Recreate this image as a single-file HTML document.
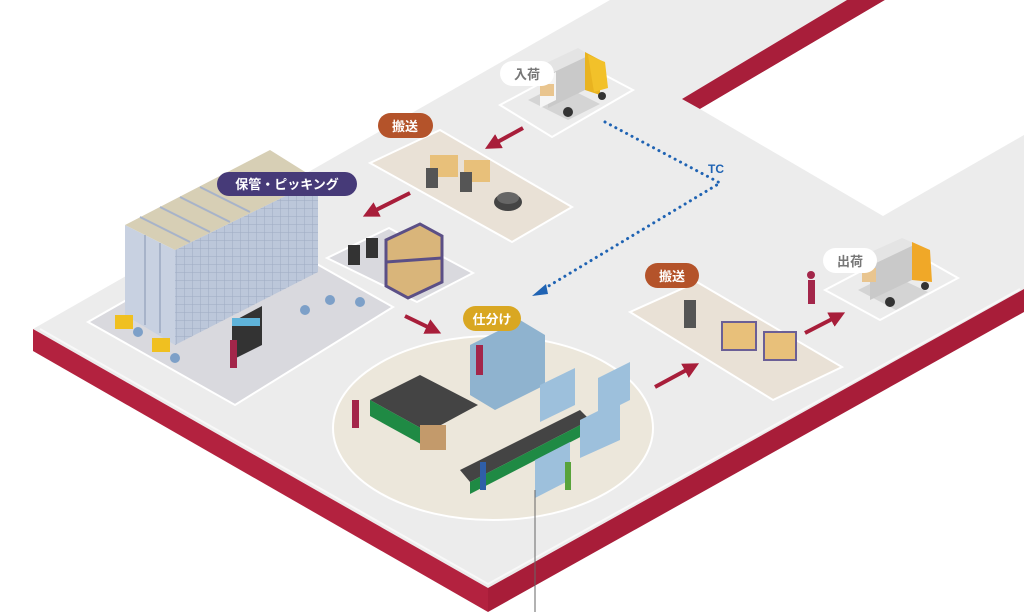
<!DOCTYPE html>
<html><head><meta charset="utf-8"><style>
html,body{margin:0;padding:0;background:#fff;}
svg{display:block;}
text{font-family:"Liberation Sans","Noto Sans CJK JP",sans-serif;font-weight:bold;}
</style></head><body>
<svg width="1024" height="612" viewBox="0 0 1024 612" xmlns="http://www.w3.org/2000/svg">
<defs>
<marker id="ah" markerWidth="4" markerHeight="4" refX="2" refY="2" orient="auto" markerUnits="strokeWidth"><path d="M0,0 L4,2 L0,4 z" fill="#a81e3a"/></marker>
<pattern id="grid" width="8" height="8" patternUnits="userSpaceOnUse"><rect width="8" height="8" fill="#bcc7da"/><path d="M0 0H8M0 0V8" stroke="#9eabc3" stroke-width="1"/></pattern>
</defs>
<rect width="1024" height="612" fill="#fff"/>
<polygon points="33,329 610,0 1024,0 1024,289 488,588" fill="#ececec"/>
<polygon points="33,329 488,588 488,612 33,351" fill="#b3223f"/>
<polygon points="488,588 1024,289 1024,312 488,612" fill="#a81d39"/>
<polyline points="40,329 488,584 1020,289" fill="none" stroke="#f8f8f8" stroke-width="2"/>
<polygon points="682,99 847,0 885,0 700,109" fill="#a81e3a"/>
<polygon points="700,109 885,0 1024,0 1024,135 883,216" fill="#fff"/>

<polygon points="500,105 580,62 633,90 552,137" fill="none" stroke="#fff" stroke-width="2"/>
<polygon points="528,100 560,84 600,104 568,120" fill="#d4d4d4"/>
<polygon points="548,70 585,52 585,90 548,108" fill="#c9c9c9"/>
<polygon points="540,66 578,48 590,55 552,73" fill="#e4e4e4"/>
<polygon points="585,52 600,60 600,95 585,90" fill="#e9b320"/>
<polygon points="588,55 605,62 608,88 594,92" fill="#f2c12a"/>
<polygon points="540,80 556,72 556,100 540,108" fill="#f5f5f5"/>
<rect x="540" y="84" width="14" height="12" fill="#e9c58f"/>
<circle cx="568" cy="112" r="5" fill="#333"/><circle cx="602" cy="96" r="4" fill="#333"/>
<rect x="500" y="61" width="54" height="25" rx="12.5" fill="#fff"/>
<text x="527" y="79" font-size="13" fill="#777" text-anchor="middle">入荷</text>

<polygon points="370,163 440,130 572,207 512,242" fill="#e9e1d6" stroke="#fff" stroke-width="2"/>
<rect x="430" y="155" width="28" height="22" fill="#e8c07a"/><rect x="464" y="160" width="26" height="22" fill="#e8c07a"/>
<rect x="426" y="168" width="12" height="20" fill="#555"/><rect x="460" y="172" width="12" height="20" fill="#555"/>
<ellipse cx="508" cy="202" rx="14" ry="9" fill="#444"/><ellipse cx="508" cy="198" rx="11" ry="6" fill="#666"/>
<rect x="378" y="113" width="55" height="25" rx="12.5" fill="#b4532a"/>
<text x="405" y="131" font-size="13" fill="#fff" text-anchor="middle">搬送</text>
<line x1="523" y1="128" x2="492" y2="145" stroke="#a81e3a" stroke-width="4" marker-end="url(#ah)"/>
<line x1="410" y1="193" x2="370" y2="213" stroke="#a81e3a" stroke-width="4" marker-end="url(#ah)"/>

<polygon points="88,322 253,228 393,307 235,405" fill="#d9d9de" stroke="#fff" stroke-width="2"/>
<polygon points="175,250 318,180 318,272 175,345" fill="url(#grid)"/>
<polygon points="125,225 175,250 175,345 125,315" fill="#c8d1e1"/>
<polygon points="125,225 270,150 318,180 175,250" fill="#d7cfb5"/>
<path d="M140,217 L190,242 M160,207 L210,232 M180,197 L230,222 M200,187 L250,212 M145,235 V325 M160,243 V333" stroke="#a7b3c9" stroke-width="2"/>
<rect x="115" y="315" width="18" height="14" fill="#f0c020"/><rect x="152" y="338" width="18" height="14" fill="#f0c020"/>
<polygon points="232,322 262,306 262,345 232,360" fill="#333"/>
<rect x="232" y="318" width="28" height="8" fill="#5fb3d9"/>
<rect x="230" y="340" width="7" height="28" fill="#a3264a"/>
<circle cx="305" cy="310" r="5" fill="#7da0c8"/><circle cx="330" cy="300" r="5" fill="#7da0c8"/><circle cx="360" cy="302" r="5" fill="#7da0c8"/><circle cx="138" cy="332" r="5" fill="#7da0c8"/><circle cx="175" cy="358" r="5" fill="#7da0c8"/>
<rect x="217" y="172" width="140" height="24" rx="12" fill="#463a78"/>
<text x="287" y="189" font-size="13" fill="#fff" text-anchor="middle">保管・ピッキング</text>

<polygon points="327,258 389,228 473,273 417,302" fill="#d9d9de" stroke="#fff" stroke-width="2"/>
<rect x="348" y="245" width="12" height="20" fill="#333"/><rect x="366" y="238" width="12" height="20" fill="#333"/>
<polygon points="386,240 420,224 442,236 442,282 408,298 386,286" fill="#d9b57a" stroke="#5b4f86" stroke-width="3"/>
<line x1="386" y1="262" x2="442" y2="258" stroke="#5b4f86" stroke-width="3"/>
<line x1="405" y1="316" x2="434" y2="330" stroke="#a81e3a" stroke-width="4" marker-end="url(#ah)"/>

<ellipse cx="493" cy="428" rx="160" ry="92" fill="#ece7db" stroke="#fff" stroke-width="2"/>
<polygon points="370,400 420,375 478,405 428,432" fill="#444"/>
<polygon points="370,400 428,432 428,448 370,416" fill="#1f8a44"/>
<rect x="420" y="425" width="26" height="25" fill="#c39a6b"/>
<rect x="352" y="400" width="7" height="28" fill="#a3264a"/>
<polygon points="470,345 520,320 545,335 545,385 495,410 470,395" fill="#8fb3cf"/>
<rect x="476" y="345" width="7" height="30" fill="#a3264a"/>
<polygon points="460,470 580,410 590,420 470,482" fill="#444"/>
<polygon points="470,482 590,420 590,432 470,494" fill="#1f8a44"/>
<polygon points="540,385 575,368 575,405 540,422" fill="#9dc0dc"/><polygon points="598,378 630,362 630,400 598,416" fill="#9dc0dc"/>
<polygon points="535,460 570,442 570,480 535,498" fill="#9dc0dc"/><polygon points="580,420 620,400 620,440 580,458" fill="#9dc0dc"/>
<rect x="480" y="462" width="6" height="28" fill="#2f5fa8"/><rect x="565" y="462" width="6" height="28" fill="#58a33a"/>
<rect x="463" y="306" width="58" height="25" rx="12.5" fill="#d9a722"/>
<text x="492" y="324" font-size="13" fill="#fff" text-anchor="middle">仕分け</text>
<line x1="535" y1="490" x2="535" y2="612" stroke="#666" stroke-width="1"/>

<polyline points="605,122 720,183 542,290" fill="none" stroke="#1f63b3" stroke-width="3" stroke-dasharray="0.1 6" stroke-linecap="round"/>
<polygon points="532,296 546,284 548,294" fill="#1f63b3"/>
<text x="708" y="173" font-size="12" fill="#1f63b3">TC</text>

<polygon points="630,312 697,282 842,367 773,400" fill="#e9e1d6" stroke="#fff" stroke-width="2"/>
<rect x="684" y="300" width="12" height="28" fill="#555"/>
<rect x="722" y="322" width="34" height="28" fill="#e8c07a" stroke="#6b5f96" stroke-width="2"/>
<rect x="764" y="332" width="32" height="28" fill="#e8c07a" stroke="#6b5f96" stroke-width="2"/>
<rect x="645" y="263" width="54" height="25" rx="12.5" fill="#b4532a"/>
<text x="672" y="281" font-size="13" fill="#fff" text-anchor="middle">搬送</text>
<line x1="655" y1="387" x2="692" y2="367" stroke="#a81e3a" stroke-width="4" marker-end="url(#ah)"/>
<line x1="805" y1="333" x2="838" y2="316" stroke="#a81e3a" stroke-width="4" marker-end="url(#ah)"/>

<polygon points="825,290 905,248 958,278 880,320" fill="none" stroke="#fff" stroke-width="2"/>
<polygon points="858,290 890,274 928,292 896,310" fill="#d4d4d4"/>
<polygon points="870,262 912,242 912,280 870,300" fill="#c9c9c9"/>
<polygon points="862,256 902,238 916,244 874,264" fill="#e4e4e4"/>
<polygon points="912,242 930,250 932,282 912,280" fill="#f0a828"/>
<rect x="862" y="268" width="14" height="14" fill="#e9c58f"/>
<circle cx="890" cy="302" r="5" fill="#333"/><circle cx="925" cy="286" r="4" fill="#333"/>
<rect x="808" y="280" width="7" height="24" fill="#a3264a"/><circle cx="811" cy="275" r="4" fill="#a3264a"/>
<rect x="823" y="248" width="54" height="25" rx="12.5" fill="#fff"/>
<text x="850" y="266" font-size="13" fill="#777" text-anchor="middle">出荷</text>
</svg>
</body></html>
